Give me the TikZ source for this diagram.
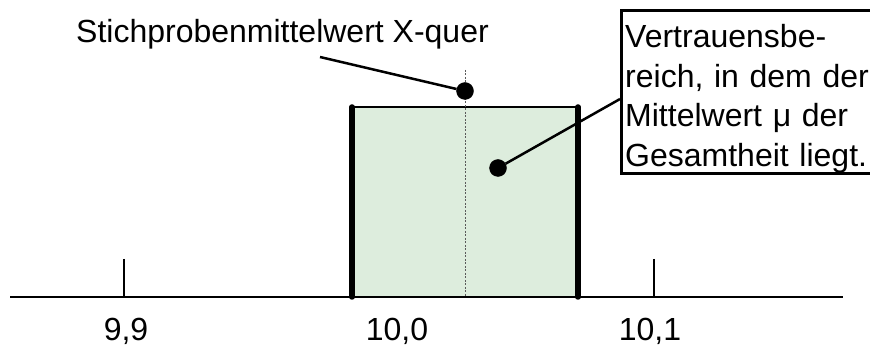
\documentclass[tikz,border=0pt]{standalone}
\usepackage{fontspec}
\setmainfont{Liberation Sans}
\definecolor{areagreen}{RGB}{221,237,221}
\definecolor{midgray}{RGB}{90,90,90}
\begin{document}
\begin{tikzpicture}[x=1pt,y=-1pt,
  txt/.style={font=\fontsize{32}{39.7}\selectfont, inner sep=0pt},
  dotmark/.style={circle, fill=black, draw=black, minimum size=17pt, inner sep=0pt},
  bound/.style={line width=5.5pt, line cap=round},
  conn/.style={line width=2.5pt},
  tick/.style={line width=2pt}]
\useasboundingbox (0,0) rectangle (870,347);
\clip (0,0) rectangle (870,347);
% confidence area
\fill[areagreen] (352,107) rectangle (578,297);
\draw[line width=2pt] (352,107) -- (578,107);
% mean line
\draw[midgray, line width=0.8pt, dash pattern=on 2pt off 1.5pt] (465,70) -- (465,297);
% axis and ticks
\coordinate (axL) at (10,297);
\coordinate (axR) at (843,297);
\draw[line width=2.2pt] (axL) -- (axR);
\draw[tick] (124,259) -- (124,297);
\draw[tick] (654,259) -- (654,297);
% boundaries
\draw[bound] (352,107) -- (352,297);
\draw[bound] (578,107) -- (578,297);
% tick labels
\node[txt, anchor=base] (l99) at (126,340) {9,9};
\node[txt, anchor=base] (l100) at (397,340) {10,0};
\node[txt, anchor=base] (l101) at (650,340) {10,1};
% dots
\node[dotmark] (d1) at (465,91) {};
\node[dotmark] (d2) at (498,168) {};
% labels
\node[txt, anchor=base] (st) at (282.5,43) {Stichprobenmittelwert X-quer};
\coordinate (c1) at (320,57);
\node[draw, line width=3pt, anchor=north west, minimum width=258pt,
      minimum height=163pt, inner sep=0pt] (box) at (620,9) {};
\node[txt, anchor=north west, align=left, text width=245pt] (boxtxt) at (625,24)
  {Vertrauensbe-\\reich, in dem der\\Mittelwert μ der\\Gesamtheit liegt.};
% connectors
\draw[conn] (c1) -- (d1);
\draw[conn] (d2) -- ([yshift=-7pt]box.west);
\end{tikzpicture}
\end{document}
